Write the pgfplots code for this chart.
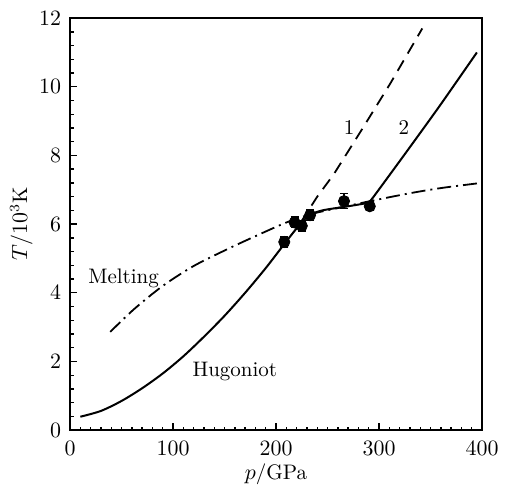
\documentclass[border=0pt]{standalone}
\usepackage{pgfplots}
\pgfplotsset{compat=1.18}

\begin{document}
\begin{tikzpicture}
\begin{axis}[
    scale only axis,
    width=206pt, height=206pt,
    xmin=0, xmax=400, ymin=0, ymax=12,
    xtick={0,100,200,300,400},
    ytick={0,2,4,6,8,10,12},
    minor x tick num=9,
    minor y tick num=4,
    xtick pos=left, ytick pos=left,
    tick align=inside,
    major tick length=3.5pt,
    minor tick length=1.8pt,
    axis line style={line width=1.1pt},
    every tick/.style={line width=0.7pt, black},
    font=\fontsize{10.5}{12}\selectfont,
    xticklabel style={yshift=-2pt},
    yticklabel style={xshift=-1pt},
    xlabel={$p$/GPa},
    ylabel={$T/10^3$K},
    xlabel style={at={(rel axis cs:0.5,-0.107)}, anchor=center},
    ylabel style={at={(rel axis cs:-0.118,0.5)}, anchor=center},
    clip=false,
]
% bounding box matching the reference margins
\path (rel axis cs:-0.17,-0.16) rectangle (rel axis cs:1.063,1.044);

% Hugoniot, curve 2 (solid)
\addplot[black, line width=1pt, smooth, tension=0.5] coordinates {
 (10,0.39) (30,0.56) (50,0.85) (70,1.22) (90,1.65) (110,2.15) (130,2.72)
 (150,3.33) (170,4.0) (190,4.72) (208,5.42) (222,5.95) (232,6.25) (245,6.4)
 (270,6.52) (290,6.62)};
\addplot[black, line width=1pt, smooth, tension=0.4] coordinates {
 (290,6.62) (296,6.85) (327,8.12) (359,9.45) (395,11.0)};

% curve 1 (dashed)
\addplot[black, line width=0.9pt, dash pattern=on 6pt off 4pt] coordinates {
 (224,6.05) (240,6.8) (256,7.45) (283,8.74) (311,10.1) (342,11.7)};

% Melting (dash-dot)
\addplot[black, line width=0.9pt, smooth, tension=0.5,
  dash pattern=on 7pt off 2.5pt on 1pt off 2.5pt] coordinates {
 (39,2.86) (62,3.52) (90,4.2) (120,4.78) (152,5.26) (180,5.65)
 (211,6.06) (235,6.3) (265,6.5) (293,6.68) (330,6.9)
 (360,7.05) (399,7.2)};

% measured points
\addplot[black, only marks, mark=*, mark size=2.8pt,
  error bars/.cd, y dir=both, y explicit,
  error bar style={line width=0.8pt},
  error mark options={rotate=90, mark size=2pt, line width=0.8pt}]
  coordinates {
 (208,5.48) +- (0,0.15)
 (218,6.05) +- (0,0.15)
 (225,5.95) +- (0,0.15)
 (233,6.26) +- (0,0.15)
 (266,6.67) +- (0,0.22)
 (291,6.52) +- (0,0.12)};

\node at (axis cs:52,4.43) {Melting};
\node at (axis cs:160,1.7) {Hugoniot};
\node at (axis cs:271,8.8) {1};
\node at (axis cs:324,8.8) {2};
\end{axis}
\end{tikzpicture}
\end{document}
